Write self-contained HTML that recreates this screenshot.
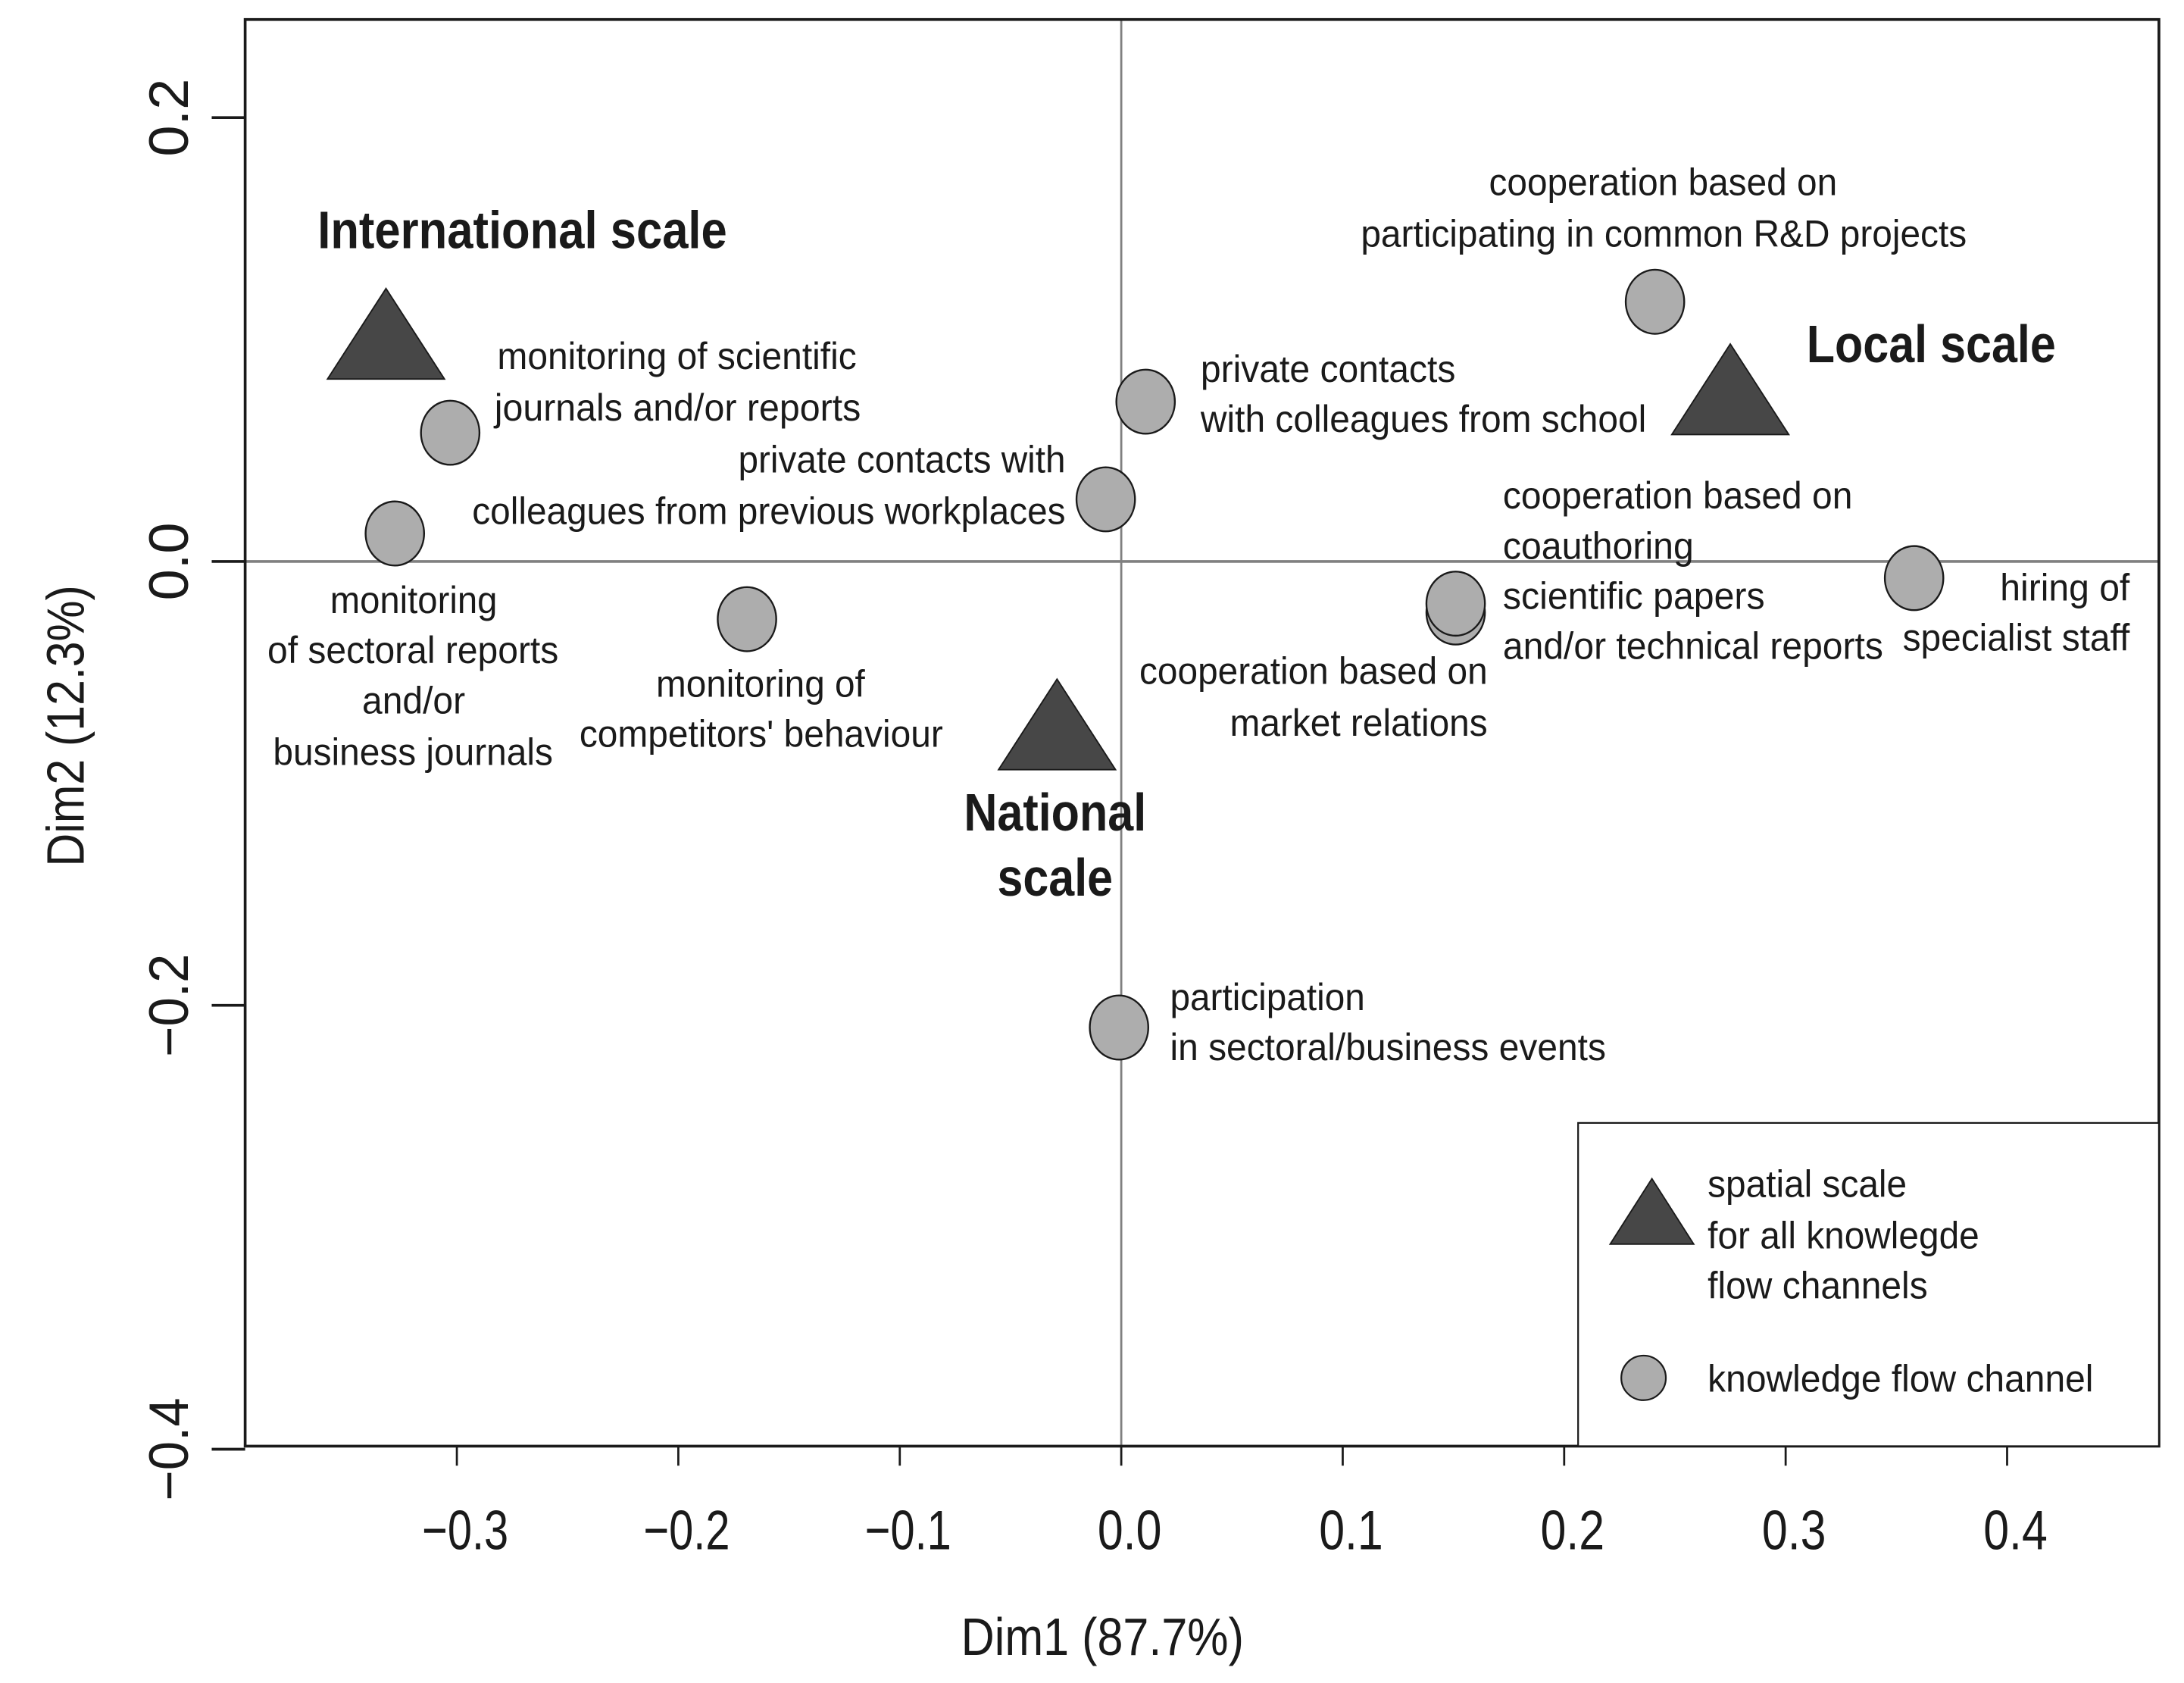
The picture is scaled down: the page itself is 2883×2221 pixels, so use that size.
<!DOCTYPE html>
<html><head><meta charset="utf-8"><style>
html,body{margin:0;padding:0;background:#fff;}
svg{display:block;}
text{font-family:"Liberation Sans",sans-serif;fill:#1a1a1a;}
</style></head><body>
<svg id="chart" width="2883" height="2221" viewBox="0 0 1568 1208" preserveAspectRatio="none" xmlns="http://www.w3.org/2000/svg">
<rect x="0" y="0" width="1568" height="1208" fill="#fff"/>
<g id="zero-lines"></g>
<g id="marks"></g>
<rect x="176" y="14" width="1374" height="1024" fill="none" stroke="#1a1a1a" stroke-width="2"/>
<g id="ticks"></g>
<g font-size="27">
<text x="228" y="178" font-weight="bold" font-size="38" textLength="294" lengthAdjust="spacingAndGlyphs">International scale</text>
<text x="1297" y="260" font-weight="bold" font-size="38" textLength="179" lengthAdjust="spacingAndGlyphs">Local scale</text>
<text x="692" y="596" font-weight="bold" font-size="38" textLength="131" lengthAdjust="spacingAndGlyphs">National</text>
<text x="716" y="643" font-weight="bold" font-size="38" textLength="83" lengthAdjust="spacingAndGlyphs">scale</text>
<text x="1069" y="140" textLength="250" lengthAdjust="spacingAndGlyphs">cooperation based on</text>
<text x="977" y="177" textLength="435" lengthAdjust="spacingAndGlyphs">participating in common R&amp;D projects</text>
<text x="357" y="265" textLength="258" lengthAdjust="spacingAndGlyphs">monitoring of scientific</text>
<text x="355" y="302" textLength="263" lengthAdjust="spacingAndGlyphs">journals and/or reports</text>
<text x="862" y="274" textLength="183" lengthAdjust="spacingAndGlyphs">private contacts</text>
<text x="862" y="310" textLength="320" lengthAdjust="spacingAndGlyphs">with colleagues from school</text>
<text x="530" y="339" textLength="235" lengthAdjust="spacingAndGlyphs">private contacts with</text>
<text x="339" y="376" textLength="426" lengthAdjust="spacingAndGlyphs">colleagues from previous workplaces</text>
<text x="1079" y="365" textLength="251" lengthAdjust="spacingAndGlyphs">cooperation based on</text>
<text x="1079" y="401" textLength="137" lengthAdjust="spacingAndGlyphs">coauthoring</text>
<text x="1079" y="437" textLength="188" lengthAdjust="spacingAndGlyphs">scientific papers</text>
<text x="1079" y="473" textLength="273" lengthAdjust="spacingAndGlyphs">and/or technical reports</text>
<text x="1436" y="431" textLength="93" lengthAdjust="spacingAndGlyphs">hiring of</text>
<text x="1366" y="467" textLength="163" lengthAdjust="spacingAndGlyphs">specialist staff</text>
<text x="237" y="440" textLength="120" lengthAdjust="spacingAndGlyphs">monitoring</text>
<text x="192" y="476" textLength="209" lengthAdjust="spacingAndGlyphs">of sectoral reports</text>
<text x="260" y="512" textLength="74" lengthAdjust="spacingAndGlyphs">and/or</text>
<text x="196" y="549" textLength="201" lengthAdjust="spacingAndGlyphs">business journals</text>
<text x="471" y="500" textLength="150" lengthAdjust="spacingAndGlyphs">monitoring of</text>
<text x="416" y="536" textLength="261" lengthAdjust="spacingAndGlyphs">competitors' behaviour</text>
<text x="818" y="491" textLength="250" lengthAdjust="spacingAndGlyphs">cooperation based on</text>
<text x="883" y="528" textLength="185" lengthAdjust="spacingAndGlyphs">market relations</text>
<text x="840" y="725" textLength="140" lengthAdjust="spacingAndGlyphs">participation</text>
<text x="840" y="761" textLength="313" lengthAdjust="spacingAndGlyphs">in sectoral/business events</text>
</g>
<g font-size="27">
<rect x="1133" y="806" width="417" height="232" fill="#fff" stroke="#1a1a1a" stroke-width="1.2"/>
<polygon points="1186,846 1216,893 1156,893" fill="#474747" stroke="#1a1a1a" stroke-width="1"/>
<circle cx="1180" cy="989" r="16" fill="#adadad" stroke="#1a1a1a" stroke-width="1.2"/>
<text x="1226" y="859" textLength="143" lengthAdjust="spacingAndGlyphs">spatial scale</text>
<text x="1226" y="896" textLength="195" lengthAdjust="spacingAndGlyphs">for all knowlegde</text>
<text x="1226" y="932" textLength="158" lengthAdjust="spacingAndGlyphs">flow channels</text>
<text x="1226" y="999" textLength="277" lengthAdjust="spacingAndGlyphs">knowledge flow channel</text>
</g>
<text x="690" y="1188" font-size="38" textLength="203" lengthAdjust="spacingAndGlyphs">Dim1 (87.7%)</text>
<text transform="translate(60,622) rotate(-90)" x="0" y="0" font-size="38" textLength="202" lengthAdjust="spacingAndGlyphs">Dim2 (12.3%)</text>
</svg>
<script>
const xTicks = [-0.3, -0.2, -0.1, 0.0, 0.1, 0.2, 0.3, 0.4];
const xTickLabels = ["\u22120.3", "\u22120.2", "\u22120.1", "0.0", "0.1", "0.2", "0.3", "0.4"];
const yTicks = [0.2, 0.0, -0.2, -0.4];
const yTickLabels = ["0.2", "0.0", "\u22120.2", "\u22120.4"];
const channelNames = ["scientific-journals","sectoral-reports","competitors","school-contacts","workplace-contacts","rd-projects","market-relations","coauthoring","hiring","events"];
const channelX = [-0.303, -0.328, -0.169, 0.011, -0.007, 0.241, 0.151, 0.151, 0.358, -0.001];
const channelY = [0.058, 0.0126, -0.026, 0.072, 0.028, 0.117, -0.023, -0.019, -0.0075, -0.210];
const scaleNames = ["international","local","national"];
const scaleX = [-0.332, 0.275, -0.029];
const scaleY = [0.096, 0.071, -0.080];

const NS = "http://www.w3.org/2000/svg";
function xs(v){ return 805 + v * 1590; }
function ys(v){ return 403 - v * 1593; }
function mk(tag, attrs, parent){ const e = document.createElementNS(NS, tag); for (const k in attrs) e.setAttribute(k, attrs[k]); parent.appendChild(e); return e; }

const zl = document.getElementById('zero-lines');
const hz = mk('line', {x1:176, x2:1550, y1:ys(0), y2:ys(0), stroke:'#808080', 'stroke-width':2}, zl);


const vz = mk('line', {x1:xs(0), x2:xs(0), y1:14, y2:1038, stroke:'#808080', 'stroke-width':1.5}, zl);



const marks = document.getElementById('marks');
for (let i = 0; i < scaleX.length; i++) {
  const cx = xs(scaleX[i]), cy = ys(scaleY[i]);
  const p = mk('polygon', {points: `${cx},${cy-43} ${cx+42},${cy+22} ${cx-42},${cy+22}`, fill:'#474747', stroke:'#1a1a1a', 'stroke-width':1}, marks);
  
  
}
for (let i = 0; i < channelX.length; i++) {
  const c = mk('ellipse', {cx: xs(channelX[i]), cy: ys(channelY[i]), rx:21, ry:23, fill:'#adadad', stroke:'#1a1a1a', 'stroke-width':1.3}, marks);
  
  
}

const tk = document.getElementById('ticks');
for (let i = 0; i < xTicks.length; i++) {
  const x = xs(xTicks[i]);
  const l = mk('line', {x1:x, x2:x, y1:1038, y2:1052, stroke:'#1a1a1a', 'stroke-width':1.5}, tk);
  
  
  const t = mk('text', {x:x + 6, y:1112, 'text-anchor':'middle', 'font-size':40, textLength: xTickLabels[i].length > 3 ? 62 : 46, lengthAdjust:'spacingAndGlyphs'}, tk);
  t.textContent = xTickLabels[i];
  
  
}
for (let i = 0; i < yTicks.length; i++) {
  const y = ys(yTicks[i]);
  const l = mk('line', {x1:152, x2:176, y1:y, y2:y, stroke:'#1a1a1a', 'stroke-width':2}, tk);
  
  
  const t = mk('text', {transform:`translate(135,${y}) rotate(-90)`, x:0, y:0, 'text-anchor':'middle', 'font-size':40, textLength: yTickLabels[i].length > 3 ? 74 : 56, lengthAdjust:'spacingAndGlyphs'}, tk);
  t.textContent = yTickLabels[i];
  
  
}
</script>
</body></html>
